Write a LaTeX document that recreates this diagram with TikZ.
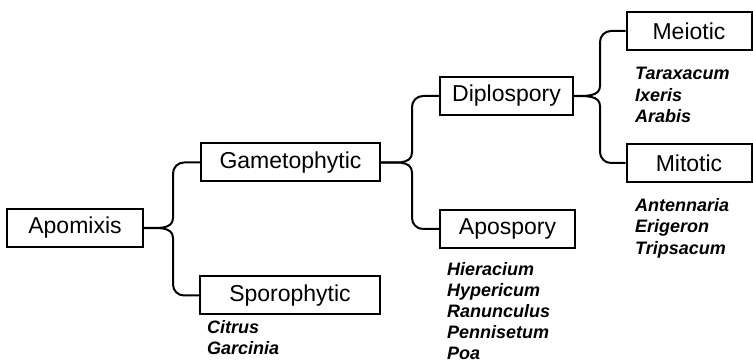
\documentclass[tikz,border=0pt]{standalone}
\usepackage{fontspec}
\setmainfont{Liberation Sans}
\usetikzlibrary{calc}
\tikzset{
    box/.style={draw,line width=2pt,inner sep=0pt,minimum height=38pt,font=\fontsize{23}{26}\selectfont},
    branch/.style={line width=2pt},
    genera/.style={anchor=west,inner sep=0pt,align=left,font=\fontsize{18}{21.5}\selectfont\bfseries\itshape}
}

\begin{document}
\begin{tikzpicture}[x=1pt,y=1pt]
        \useasboundingbox (0,0) rectangle (753,364);
        \node[box,minimum width=136pt] (apo) at (75,136) {Apomixis};
        \node[box,minimum width=179pt] (gam) at (290.5,201.5) {Gametophytic};
        \node[box,minimum width=180pt] (spo) at (290,68.5) {Sporophytic};
        \node[box,minimum width=133pt] (dip) at (506.5,268) {Diplospory};
        \node[box,minimum width=135pt] (aps) at (507.5,135) {Apospory};
        \node[box,minimum width=125pt] (mei) at (689,333) {Meiotic};
        \node[box,minimum width=125pt] (mit) at (689,201) {Mitotic};
        \draw[branch] (apo.east) to[out=0,in=-90] ++(29,10) [rounded corners=11pt] |- (gam.west);
        \draw[branch] (apo.east) to[out=0,in=90] ++(29,-10) [rounded corners=11pt] |- (spo.west);
        \draw[branch] (gam.east) to[out=0,in=-90] ++(31,10) [rounded corners=11pt] |- (dip.west);
        \draw[branch] (gam.east) to[out=0,in=90] ++(31,-10) [rounded corners=11pt] |- (aps.west);
        \draw[branch] (dip.east) to[out=0,in=-90] ++(26,10) [rounded corners=11pt] |- (mei.west);
        \draw[branch] (dip.east) to[out=0,in=90] ++(26,-10) [rounded corners=11pt] |- (mit.west);
        \node[genera] (meiSp) at (635,269) {Taraxacum\\Ixeris\\Arabis};
        \node[genera] (mitSp) at (635,136) {Antennaria\\Erigeron\\Tripsacum};
        \node[genera,font=\fontsize{18}{21}\selectfont\bfseries\itshape] (apsSp) at (447,53) {Hieracium\\Hypericum\\Ranunculus\\Pennisetum\\Poa};
        \node[genera] (spoSp) at (207,26.5) {Citrus\\Garcinia};
    \end{tikzpicture}
\end{document}
